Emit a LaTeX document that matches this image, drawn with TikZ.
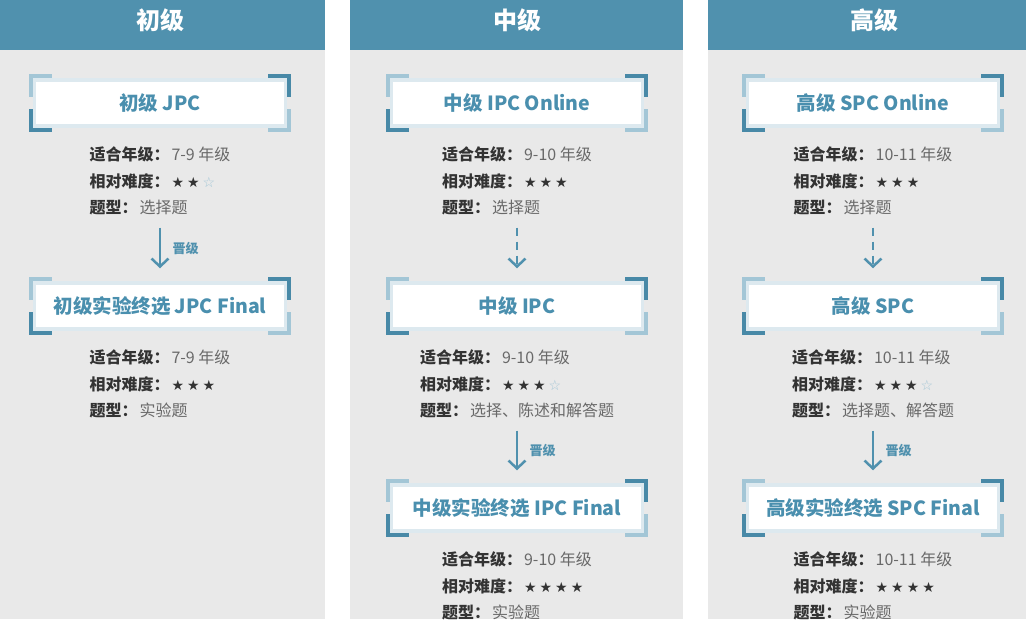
\documentclass[tikz,border=0pt]{standalone}
\usepackage{fontspec}
\setmainfont{Noto Sans CJK SC}
\newfontfamily\symfont{DejaVu Sans}
\usetikzlibrary{positioning,arrows.meta}
\definecolor{hdr}{RGB}{80,145,174}
\definecolor{panel}{RGB}{233,233,233}
\definecolor{dark}{RGB}{72,137,167}
\definecolor{lite}{RGB}{163,198,214}
\definecolor{edge}{RGB}{221,233,239}
\definecolor{ttl}{RGB}{74,143,174}
\definecolor{lab}{RGB}{51,51,51}
\definecolor{val}{RGB}{105,105,105}
\newcommand{\lab}[1]{{\bfseries\color{lab}#1}\hspace{2pt}}
\newcommand{\starf}{{\symfont\fontsize{14pt}{14pt}\selectfont\color{lab}★}\hspace{3pt}}
\newcommand{\stare}{{\symfont\fontsize{14pt}{14pt}\selectfont\color{lite}☆}}
\newcommand{\corners}[1]{
  \draw[lite, line width=4pt] ([xshift=19pt,yshift=2pt]#1.north west) -| ([xshift=-2pt,yshift=-19pt]#1.north west);
  \draw[dark, line width=4pt] ([xshift=-19pt,yshift=2pt]#1.north east) -| ([xshift=2pt,yshift=-19pt]#1.north east);
  \draw[dark, line width=4pt] ([xshift=19pt,yshift=-2pt]#1.south west) -| ([xshift=-2pt,yshift=19pt]#1.south west);
  \draw[lite, line width=4pt] ([xshift=-19pt,yshift=-2pt]#1.south east) -| ([xshift=2pt,yshift=19pt]#1.south east);
}
\tikzset{
  lvlbox/.style={draw=edge, line width=3.5pt, fill=white, minimum width=251pt, minimum height=46pt, inner sep=0pt, text=ttl, font=\fontsize{19.5pt}{22pt}\selectfont\bfseries},
  info/.style={align=left, inner sep=0pt, text=val, font=\fontsize{16pt}{26.5pt}\selectfont},
  hdrtext/.style={text=white, font=\fontsize{24pt}{28pt}\selectfont\bfseries},
  up/.style={draw=hdr, line width=2.5pt, -{Straight Barb[length=8pt,width=17pt]}, shorten <=12pt, shorten >=13pt},
  dashup/.style={up, dash pattern=on 8pt off 6pt},
  tag/.style={text=hdr, font=\fontsize{13pt}{15pt}\selectfont\bfseries}
}

\begin{document}
\begin{tikzpicture}[x=1pt, y=-1pt, line join=miter]
\useasboundingbox (0,0) rectangle (1026,619);
% panels
\fill[panel] (0,50) rectangle (325,619);
\fill[panel] (350,50) rectangle (683,619);
\fill[panel] (708,50) rectangle (1026,619);
\fill[hdr] (0,0) rectangle (325,50);
\fill[hdr] (350,0) rectangle (683,50);
\fill[hdr] (708,0) rectangle (1026,50);
\node[hdrtext] (h1) at (160,20) {初级};
\node[hdrtext] (h2) at (517,20) {中级};
\node[hdrtext] (h3) at (874,20) {高级};

% 初级
\node[lvlbox] (c1b1) at (160,103) {初级 JPC};
\corners{c1b1}
\node[info, below=19pt of c1b1] (c1i1) {\lab{适合年级：}7-9 年级\\ \lab{相对难度：}\starf\starf\stare\\ \lab{题型：}选择题};
\node[lvlbox] (c1b2) at (160,306) {初级实验终选 JPC Final};
\corners{c1b2}
\node[info, below=19pt of c1b2] (c1i2) {\lab{适合年级：}7-9 年级\\ \lab{相对难度：}\starf\starf\starf\\ \lab{题型：}实验题};
\draw[up] (c1i1) -- node[tag, right=8pt] {晋级} (c1b2);

% 中级
\node[lvlbox] (c2b1) at (517,103) {中级 IPC Online};
\corners{c2b1}
\node[info, below=19pt of c2b1] (c2i1) {\lab{适合年级：}9-10 年级\\ \lab{相对难度：}\starf\starf\starf\\ \lab{题型：}选择题};
\node[lvlbox] (c2b2) at (517,306) {中级 IPC};
\corners{c2b2}
\node[info, below=19pt of c2b2] (c2i2) {\lab{适合年级：}9-10 年级\\ \lab{相对难度：}\starf\starf\starf\stare\\ \lab{题型：}选择、陈述和解答题};
\node[lvlbox] (c2b3) at (517,508) {中级实验终选 IPC Final};
\corners{c2b3}
\node[info, below=19pt of c2b3] (c2i3) {\lab{适合年级：}9-10 年级\\ \lab{相对难度：}\starf\starf\starf\starf\\ \lab{题型：}实验题};
\draw[dashup] (c2i1) -- (c2b2);
\draw[up] (c2i2) -- node[tag, right=8pt] {晋级} (c2b3);

% 高级
\node[lvlbox] (c3b1) at (873,103) {高级 SPC Online};
\corners{c3b1}
\node[info, below=19pt of c3b1] (c3i1) {\lab{适合年级：}10-11 年级\\ \lab{相对难度：}\starf\starf\starf\\ \lab{题型：}选择题};
\node[lvlbox] (c3b2) at (873,306) {高级 SPC};
\corners{c3b2}
\node[info, below=19pt of c3b2] (c3i2) {\lab{适合年级：}10-11 年级\\ \lab{相对难度：}\starf\starf\starf\stare\\ \lab{题型：}选择题、解答题};
\node[lvlbox] (c3b3) at (873,508) {高级实验终选 SPC Final};
\corners{c3b3}
\node[info, below=19pt of c3b3] (c3i3) {\lab{适合年级：}10-11 年级\\ \lab{相对难度：}\starf\starf\starf\starf\\ \lab{题型：}实验题};
\draw[dashup] (c3i1) -- (c3b2);
\draw[up] (c3i2) -- node[tag, right=8pt] {晋级} (c3b3);
\end{tikzpicture}
\end{document}
